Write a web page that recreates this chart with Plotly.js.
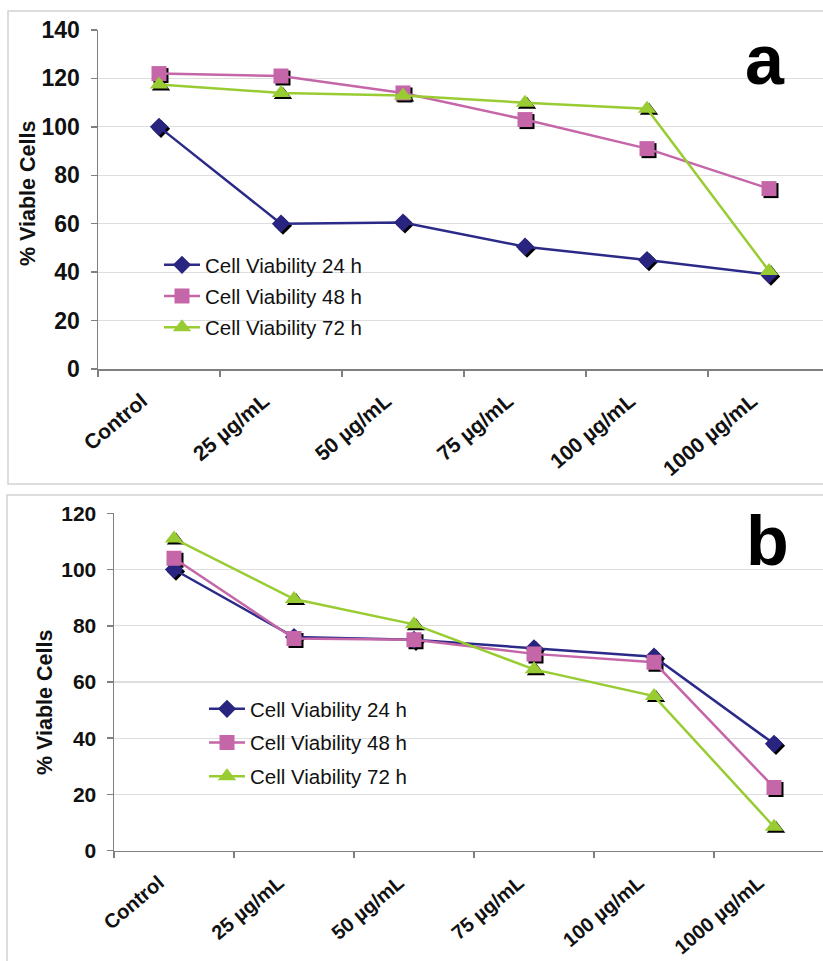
<!DOCTYPE html>
<html>
<head>
<meta charset="utf-8">
<script src="https://cdn.plot.ly/plotly-3.0.1.min.js"></script>
<style>html,body{margin:0;padding:0;background:#fff;}#chart{width:823px;height:961px;}</style>
</head>
<body>
<div id="chart"></div>
<script>
// ---- data ----
var categories = ['Control', '25 µg/mL', '50 µg/mL', '75 µg/mL', '100 µg/mL', '1000 µg/mL'];
var seriesNames = ['Cell Viability 24 h', 'Cell Viability 48 h', 'Cell Viability 72 h'];
// panel a
var a24 = [100, 60, 60.5, 50.5, 45, 39];
var a48 = [122, 121, 114, 103, 91, 74.5];
var a72 = [117.5, 114, 113, 110, 107.5, 40.5];
// panel b
var b24 = [100, 76, 75, 72, 69, 38];
var b48 = [104, 75.5, 75, 70, 67, 22.5];
var b72 = [111, 89.5, 80.5, 64.5, 55, 8.5];
var yTicksA = [0, 20, 40, 60, 80, 100, 120, 140];
var yTicksB = [0, 20, 40, 60, 80, 100, 120];

// ---- style ----
var W = 823, H = 961;
var colors = ['#2C2A88', '#C466A8', '#99CC33'];
var markerColors = ['#29247F', '#C466A8', '#99CC33'];
var symbols = ['diamond', 'square', 'triangle-up'];
var msizes = [14, 15, 16];
var FONT = 'Arial, "Liberation Sans", sans-serif';

var panels = [
  {data: [a24, a48, a72], xdom: [98 / W, 1], xr: [-0.5, -0.5 + (W - 98) / 122],
   ydom: [1 - 369 / H, 1 - 30 / H], yr: [0, 140], ticks: yTicksA, legend: 'legend',
   ytf: 23, ystand: 6, xtf: 21, xshift: -17, standoff: 10},
  {data: [b24, b48, b72], xdom: [114 / W, 1], xr: [-0.5, -0.5 + (W - 114) / 120],
   ydom: [1 - 850.7 / H, 1 - 513.3 / H], yr: [0, 120], ticks: yTicksB, legend: 'legend2',
   ytf: 21, ystand: 6, xtf: 20, xshift: -15, standoff: 11}
];

var traces = [];
var layout = {
  width: W, height: H, margin: {l: 0, r: 0, t: 0, b: 0},
  paper_bgcolor: '#fff', plot_bgcolor: 'rgba(0,0,0,0)',
  font: {family: FONT, color: '#000'},
  showlegend: true,
  annotations: [], shapes: []
};

var SH = 2; // shadow offset in px
panels.forEach(function (p, pi) {
  var base = pi * 2 + 1;          // shadow axes (hidden)
  var main = pi * 2 + 2;          // visible axes overlaying
  var bx = base === 1 ? 'x' : 'x' + base, by = base === 1 ? 'y' : 'y' + base;
  var mx = 'x' + main, my = 'y' + main;
  var bxk = base === 1 ? 'xaxis' : 'xaxis' + base, byk = base === 1 ? 'yaxis' : 'yaxis' + base;
  var wpx = (p.xdom[1] - p.xdom[0]) * W, hpx = (p.ydom[1] - p.ydom[0]) * H;
  var dx = SH * (p.xr[1] - p.xr[0]) / wpx, dy = SH * (p.yr[1] - p.yr[0]) / hpx;

  layout[bxk] = {domain: p.xdom, range: [p.xr[0] - dx, p.xr[1] - dx], type: 'category',
    categoryorder: 'array', categoryarray: categories, visible: false, anchor: by, fixedrange: true};
  layout[byk] = {domain: p.ydom, range: [p.yr[0] + dy, p.yr[1] + dy], visible: false, anchor: bx, fixedrange: true};
  layout['xaxis' + main] = {overlaying: bx, anchor: my, range: p.xr, type: 'category',
    categoryorder: 'array', categoryarray: categories,
    showline: true, linecolor: '#808080', linewidth: 1.5, showgrid: false,
    ticks: 'outside', tickson: 'boundaries', ticklen: 6, tickcolor: '#808080', tickwidth: 1.5,
    tickangle: -40, ticklabelshift: p.xshift, ticklabelstandoff: p.standoff,
    tickfont: {family: FONT, size: p.xtf, color: '#111', weight: 'bold'}, zeroline: false};
  layout['yaxis' + main] = {overlaying: by, anchor: mx, range: p.yr, tickvals: p.ticks,
    showline: true, linecolor: '#808080', linewidth: 1.5, showgrid: true, gridcolor: '#dedede', gridwidth: 1.2,
    ticks: 'outside', ticklen: 6, tickcolor: '#808080', tickwidth: 1.5, zeroline: false,
    ticklabelstandoff: p.ystand,
    tickfont: {family: FONT, size: p.ytf, color: '#111', weight: 'bold'}};

  p.data.forEach(function (vals, si) {
    traces.push({type: 'scatter', mode: 'markers', x: categories, y: vals, xaxis: bx, yaxis: by,
      marker: {symbol: symbols[si], size: msizes[si], color: '#000'}, showlegend: false, hoverinfo: 'skip'});
  });
  p.data.forEach(function (vals, si) {
    traces.push({type: 'scatter', mode: 'lines+markers', x: categories, y: vals, xaxis: mx, yaxis: my,
      name: seriesNames[si], legend: p.legend, legendgroup: p.legend + si,
      line: {color: colors[si], width: 2.5},
      marker: {symbol: symbols[si], size: msizes[si], color: markerColors[si]}});
  });
});

layout.legend = {x: 159 / W, xanchor: 'left', y: 1 - 245 / H, yanchor: 'top', bgcolor: 'rgba(0,0,0,0)',
  font: {family: FONT, size: 20.5, color: '#111'}, tracegroupgap: 1.5, itemwidth: 36};
layout.legend2 = {x: 204 / W, xanchor: 'left', y: 1 - 689 / H, yanchor: 'top', bgcolor: 'rgba(0,0,0,0)',
  font: {family: FONT, size: 20.5, color: '#111'}, tracegroupgap: 4, itemwidth: 36};

layout.annotations = [
  {text: '% Viable Cells', xref: 'paper', yref: 'paper', x: 28 / W, y: 1 - 194 / H, textangle: -90,
   xanchor: 'center', yanchor: 'middle',
   showarrow: false, font: {family: FONT, size: 21.5, color: '#111', weight: 'bold'}},
  {text: '% Viable Cells', xref: 'paper', yref: 'paper', x: 45 / W, y: 1 - 703 / H, textangle: -90,
   xanchor: 'center', yanchor: 'middle',
   showarrow: false, font: {family: FONT, size: 21.5, color: '#111', weight: 'bold'}},
  {text: 'a', xref: 'paper', yref: 'paper', x: 765 / W, y: 1 - 60 / H, xanchor: 'center', yanchor: 'middle',
   showarrow: false, font: {family: FONT, size: 70, color: '#000', weight: 'bold'}},
  {text: 'b', xref: 'paper', yref: 'paper', x: 767 / W, y: 1 - 541 / H, xanchor: 'center', yanchor: 'middle',
   showarrow: false, font: {family: FONT, size: 70, color: '#000', weight: 'bold'}}
];
layout.shapes = [
  {type: 'rect', xref: 'paper', yref: 'paper', x0: 8 / W, x1: 1.02, y0: 1 - 484 / H, y1: 1 - 11 / H,
   line: {color: '#d2d2d2', width: 1.5}, layer: 'below'},
  {type: 'rect', xref: 'paper', yref: 'paper', x0: 7 / W, x1: 1.02, y0: -0.02, y1: 1 - 495 / H,
   line: {color: '#d2d2d2', width: 1.5}, layer: 'below'}
];

Plotly.newPlot('chart', traces, layout, {displayModeBar: false, staticPlot: true});
</script>
</body>
</html>
